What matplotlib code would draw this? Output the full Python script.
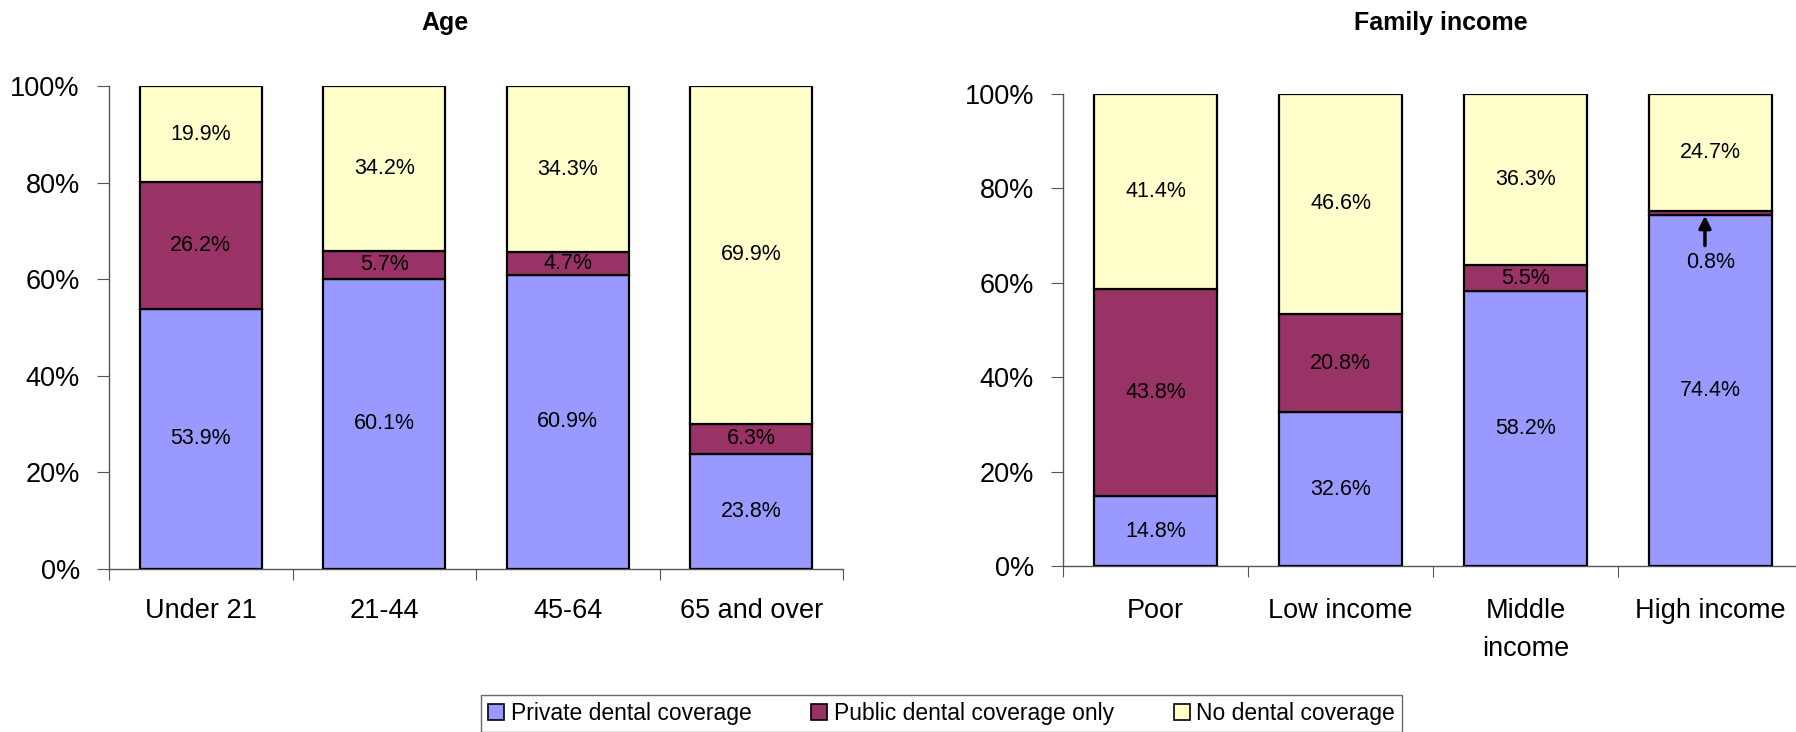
import matplotlib
matplotlib.use("Agg")
import matplotlib.pyplot as plt
from matplotlib.patches import Patch
import numpy as np

plt.rcParams['font.family'] = ['Liberation Sans', 'DejaVu Sans']

# data (percent)
series = ['Private dental coverage', 'Public dental coverage only', 'No dental coverage']
colors = ['#9999FF', '#993366', '#FFFFCC']

age_cats = ['Under 21', '21-44', '45-64', '65 and over']
age_private = [53.9, 60.1, 60.9, 23.8]
age_public = [26.2, 5.7, 4.7, 6.3]
age_none = [19.9, 34.2, 34.3, 69.9]

inc_cats = ['Poor', 'Low income', 'Middle\nincome', 'High income']
inc_private = [14.8, 32.6, 58.2, 74.4]
inc_public = [43.8, 20.8, 5.5, 0.8]
inc_none = [41.4, 46.6, 36.3, 24.7]

fig = plt.figure(figsize=(17.96, 7.32), dpi=100)
ax1 = fig.add_axes([0.0607, 0.2227, 0.4087, 0.6598])
ax2 = fig.add_axes([0.5919, 0.2268, 0.4120, 0.6448])


def draw(ax, cats, private, public, none, pad, skip_small=False):
    x = np.arange(len(cats))
    vals = [np.array(private), np.array(public), np.array(none)]
    bottom = np.zeros(len(cats))
    for v, c in zip(vals, colors):
        ax.bar(x, v, 0.665, bottom=bottom, color=c, edgecolor='black', linewidth=1.6, zorder=3)
        for i in range(len(cats)):
            if skip_small and v[i] < 2:
                continue
            ax.text(x[i], bottom[i] + v[i] / 2, f'{v[i]:.1f}%', ha='center', va='center',
                    fontsize=15.5, zorder=4)
        bottom = bottom + v
    ax.set_xlim(-0.5, len(cats) - 0.5)
    ax.set_ylim(0, 100)
    ax.set_yticks(np.arange(0, 101, 20))
    ax.set_yticklabels([f'{t}%' for t in range(0, 101, 20)], fontsize=19.5)
    ax.set_xticks(np.arange(len(cats) + 1) - 0.5)
    ax.set_xticklabels([])
    ax.set_xticks(x, minor=True)
    ax.set_xticklabels(cats, minor=True, fontsize=19.5, linespacing=1.6)
    ax.tick_params(axis='x', which='minor', length=0, pad=pad)
    ax.tick_params(axis='x', which='major', length=8, color='#555555', direction='out')
    ax.tick_params(axis='y', length=9, color='#555555', pad=12)
    for s in ['top', 'right']:
        ax.spines[s].set_visible(False)
    for s in ['left', 'bottom']:
        ax.spines[s].set_color('#555555')
        ax.spines[s].set_linewidth(1.0)


draw(ax1, age_cats, age_private, age_public, age_none, pad=21)
draw(ax2, inc_cats, inc_private, inc_public, inc_none, pad=23, skip_small=True)

# small public share for high income, labelled below with an arrow
hi = 3
ax2.text(hi, 64.4, f'{inc_public[hi]:.1f}%', ha='center', va='center', fontsize=15.5, zorder=4)
ax2.annotate('', xy=(hi - 0.03, inc_private[hi] + 0.4), xytext=(hi - 0.03, 67.3),
             arrowprops=dict(arrowstyle='-|>', color='black', lw=2.5, mutation_scale=18),
             zorder=5)

fig.text(0.248, 0.968, 'Age', ha='center', va='center', fontsize=18, fontweight='bold')
fig.text(0.802, 0.968, 'Family income', ha='center', va='center', fontsize=18, fontweight='bold')

handles = [Patch(facecolor=c, edgecolor='black', linewidth=1.2) for c in colors]
leg = fig.legend(handles, series, loc='upper center', bbox_to_anchor=(0.5242, 0.0505),
                 ncol=3, fontsize=16.5, frameon=True, fancybox=False, edgecolor='#444444',
                 handlelength=0.7, handleheight=0.7, handletextpad=0.3, columnspacing=2.6,
                 borderpad=0.3, borderaxespad=0)
leg.get_frame().set_linewidth(1.0)

fig.savefig('out.png', dpi=100)
